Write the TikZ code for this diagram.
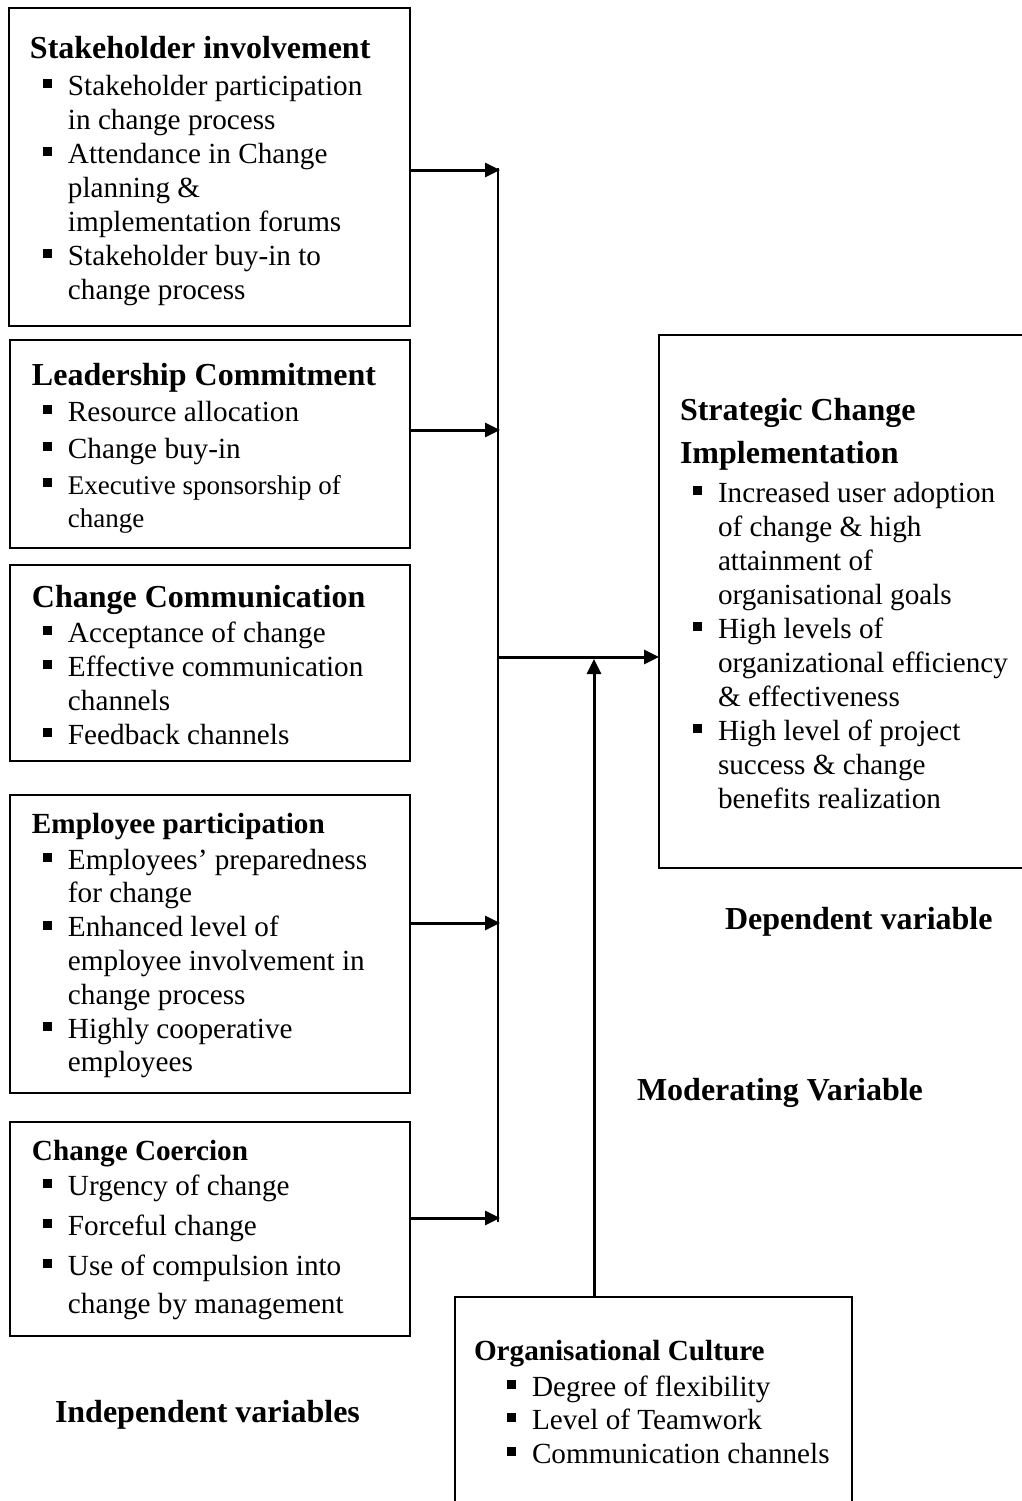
\documentclass[tikz,border=0pt]{standalone}
\usepackage{fontspec}
\setmainfont{Liberation Serif}
\usetikzlibrary{arrows.meta}
\newlength\px \setlength\px{0.5pt}
\newcommand\bu{\rule[3.5pt]{4.3pt}{4.3pt}}
\newcommand\bi[2]{\baselineskip=#1\px\hbox{\llap{\bu\hspace{8.2pt}}#2}}
\newcommand\cl[2]{\baselineskip=#1\px\hbox{#2}}
\newcommand\lst[1]{\vtop{\lineskiplimit=-\maxdimen #1}}
\tikzset{
 box/.style={draw, line width=1.2pt, rectangle, inner sep=0pt, outer sep=0pt},
 txt/.style={inner sep=0pt, outer sep=0pt, anchor=base west, font=\fontsize{14.6pt}{17pt}\selectfont},
 hd/.style={txt, font=\fontsize{16pt}{17pt}\selectfont\bfseries},
 hds/.style={txt, font=\fontsize{14.6pt}{17pt}\selectfont\bfseries},
 arr/.style={line width=1.5pt, -{Triangle[length=7.5pt 0,width=7pt 0]}},
 bus/.style={line width=0.6pt},
}
\begin{document}
\begin{tikzpicture}[x=0.5pt,y=-0.5pt]
\useasboundingbox (0,0) rectangle (1022,1501);
\clip (0,0) rectangle (1022,1501);
\fill[white] (0,0) rectangle (1022,1501);

% boxes
\node[box, minimum width=200.5pt, minimum height=159pt] (b1) at (209.5,167) {};
\node[box, minimum width=200pt, minimum height=104pt] (b2) at (210,444) {};
\node[box, minimum width=200pt, minimum height=98pt] (b3) at (210,663) {};
\node[box, minimum width=200pt, minimum height=149pt] (b4) at (210,944) {};
\node[box, minimum width=200pt, minimum height=107pt] (b5) at (210,1229) {};
\node[box, minimum width=190.5pt, minimum height=266.5pt] (dv) at (849.5,601.5) {};
\node[box, minimum width=198.5pt, minimum height=116.5pt] (mv) at (653.5,1413.5) {};

% box 1
\node[hd] (h1) at (30,58) {Stakeholder involvement};
\node[txt] (i1) at (68,95) {\lst{\bi{0}{Stakeholder participation}\cl{34}{in change process}\bi{34}{Attendance in Change}\cl{34}{planning \&}\cl{34}{implementation forums}\bi{34}{Stakeholder buy-in to}\cl{34}{change process}}};
% box 2
\node[hd] (h2) at (32,385) {Leadership Commitment};
\node[txt] (i2) at (68,421) {\lst{\bi{0}{Resource allocation}\bi{37}{Change buy-in}\bi{36}{\fontsize{13.5pt}{17pt}\selectfont Executive sponsorship of}\cl{33}{\fontsize{13.5pt}{17pt}\selectfont change}}};
% box 3
\node[hd] (h3) at (32,607) {Change Communication};
\node[txt] (i3) at (68,642) {\lst{\bi{0}{Acceptance of change}\bi{34}{Effective communication}\cl{34}{channels}\bi{34}{Feedback channels}}};
% box 4
\node[hds] (h4) at (32,833) {Employee participation};
\node[txt] (i4) at (68,869) {\lst{\bi{0}{Employees’ preparedness}\cl{33.8}{for change}\bi{33.8}{Enhanced level of}\cl{33.8}{employee involvement in}\cl{33.8}{change process}\bi{33.8}{Highly cooperative}\cl{33.8}{employees}}};
% box 5
\node[hds] (h5) at (32,1160) {Change Coercion};
\node[txt] (i5) at (68,1195) {\lst{\bi{0}{Urgency of change}\bi{40}{Forceful change}\bi{40}{Use of compulsion into}\cl{38}{change by management}}};
% dependent box
\node[hd] (hdv) at (680,420) {\lst{\cl{0}{Strategic Change}\cl{43}{Implementation}}};
\node[txt] (idv) at (718,502) {\lst{\bi{0}{Increased user adoption}\cl{34}{of change \& high}\cl{34}{attainment of}\cl{34}{organisational goals}\bi{34}{High levels of}\cl{34}{organizational efficiency}\cl{34}{\& effectiveness}\bi{34}{High level of project}\cl{34}{success \& change}\cl{34}{benefits realization}}};
% moderating box
\node[hds] (hmv) at (474,1360) {Organisational Culture};
\node[txt] (imv) at (532,1396) {\lst{\bi{0}{Degree of flexibility}\bi{33}{Level of Teamwork}\bi{34}{Communication channels}}};

% labels
\node[hd] (ldv) at (725,929) {Dependent variable};
\node[hd] (lmv) at (637,1100) {Moderating Variable};
\node[hd] (liv) at (55,1422) {Independent variables};

% connectors
\coordinate (vt) at (498,168);
\coordinate (vb) at (498,1222);
\coordinate (j1) at (500,170);
\coordinate (j2) at (500,430);
\coordinate (j4) at (500,923);
\coordinate (j5) at (500,1218);
\coordinate (jm) at (498,657);
\coordinate (mt) at (594,659);
\draw[bus] (vt) -- (vb);
\draw[arr] (b1.east |- j1) -- (j1);
\draw[arr] (b2.east |- j2) -- (j2);
\draw[arr] (b4.east |- j4) -- (j4);
\draw[arr] (b5.east |- j5) -- (j5);
\draw[arr] (jm) -- (dv.west |- jm);
\draw[arr] (mt |- mv.north) -- (mt);
\end{tikzpicture}
\end{document}
